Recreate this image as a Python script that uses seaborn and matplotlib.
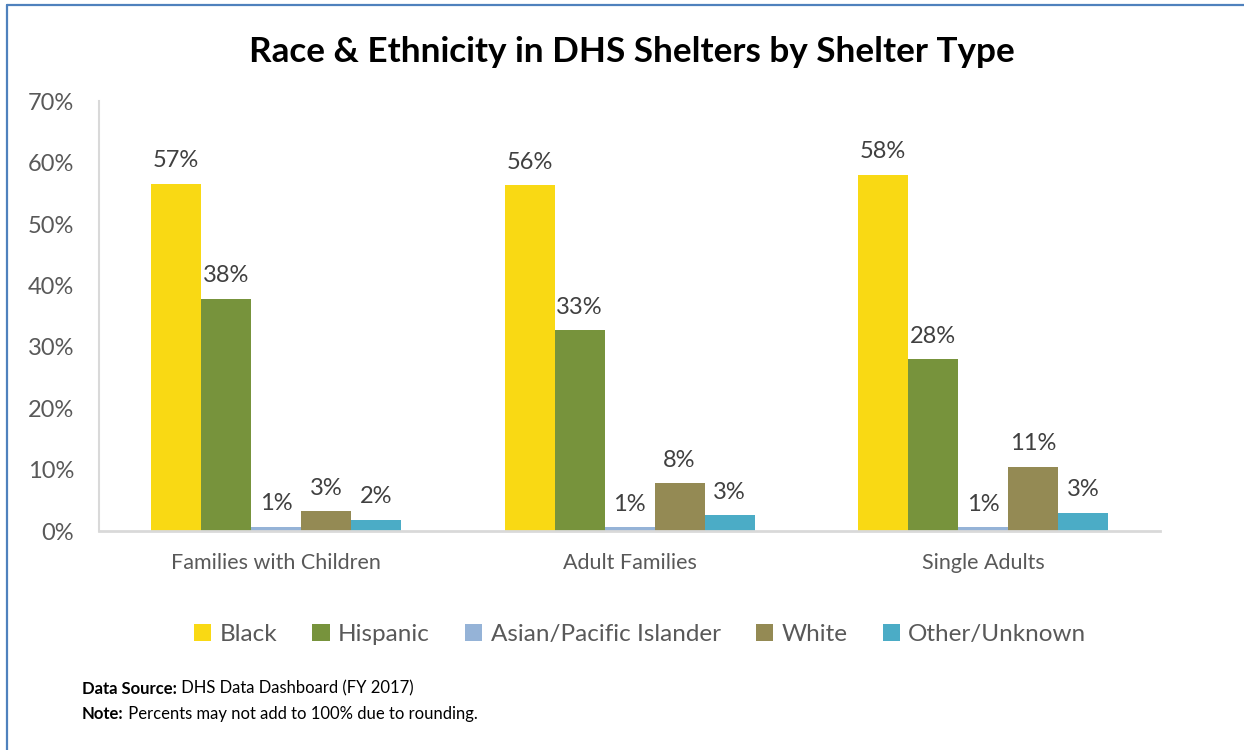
import matplotlib
matplotlib.use("Agg")
import matplotlib.pyplot as plt
import matplotlib.ticker as mticker
from matplotlib.lines import Line2D
import seaborn as sns
import pandas as pd

shelter_types = ["Families with Children", "Adult Families", "Single Adults"]
races = ["Black", "Hispanic", "Asian/Pacific Islander", "White", "Other/Unknown"]
black = [56.6, 56.3, 58.0]
hispanic = [37.8, 32.7, 28.0]
asian = [0.7, 0.6, 0.6]
white = [3.2, 7.8, 10.5]
other = [1.8, 2.6, 3.0]
labels = {
    "Black": ["57%", "56%", "58%"],
    "Hispanic": ["38%", "33%", "28%"],
    "Asian/Pacific Islander": ["1%", "1%", "1%"],
    "White": ["3%", "8%", "11%"],
    "Other/Unknown": ["2%", "3%", "3%"],
}
colors = ["#F9D914", "#77933C", "#95B3D7", "#948A54", "#4BACC6"]

series = [black, hispanic, asian, white, other]
rows = []
for r, vals in zip(races, series):
    for s, v in zip(shelter_types, vals):
        rows.append({"Shelter": s, "Race": r, "Pct": v})
df = pd.DataFrame(rows)

sns.set_theme(style="white")
plt.rcParams["font.family"] = ["Lato", "DejaVu Sans"]

fig = plt.figure(figsize=(12.44, 7.5), dpi=100)
ax = fig.add_axes([0.0796, 0.292, 0.853, 0.573])

sns.barplot(data=df, x="Shelter", y="Pct", hue="Race", order=shelter_types,
            hue_order=races, palette=colors, width=0.707, saturation=1,
            ax=ax, legend=True, edgecolor="none")

for cont, r in zip(ax.containers, races):
    ax.bar_label(cont, labels=labels[r], padding=9, fontsize=17, color="#404040")

ax.set_ylim(0, 70)
ax.set_xlim(-0.5, 2.5)
ax.yaxis.set_major_locator(mticker.MultipleLocator(10))
ax.yaxis.set_major_formatter(mticker.FuncFormatter(lambda v, p: f"{int(v)}%"))
ax.set_xlabel("")
ax.set_ylabel("")
ax.tick_params(axis="y", labelsize=17, labelcolor="#595959", pad=18, length=0)
ax.tick_params(axis="x", labelsize=15.5, labelcolor="#595959", pad=16, length=0)
for side in ["top", "right"]:
    ax.spines[side].set_visible(False)
ax.spines["left"].set_color("#D9D9D9")
ax.spines["left"].set_linewidth(1.5)
ax.spines["bottom"].set_color("#D9D9D9")
ax.spines["bottom"].set_linewidth(2)

handles, lbls = ax.get_legend_handles_labels()
ax.legend(handles, lbls, loc="upper center", bbox_to_anchor=(0.51, -0.165),
          ncol=5, frameon=False, fontsize=17.5, labelcolor="#595959",
          handlelength=0.7, handleheight=0.7, handletextpad=0.35,
          columnspacing=1.45)

fig.text(0.508, 0.93, "Race & Ethnicity in DHS Shelters by Shelter Type",
         ha="center", va="center", fontsize=25.3, fontweight="bold", color="black")

fig.canvas.draw()
renderer = fig.canvas.get_renderer()
foot = [("Data Source:", " DHS Data Dashboard (FY 2017)", 0.082),
        ("Note:", " Percents may not add to 100% due to rounding.", 0.048)]
for bold, rest, yy in foot:
    t = fig.text(0.066, yy, bold, fontsize=12, fontweight="bold",
                 color="black", va="center")
    bb = t.get_window_extent(renderer=renderer)
    x2 = bb.x1 / fig.bbox.width
    fig.text(x2, yy, rest, fontsize=12, color="black", va="center")

fig.add_artist(Line2D([0.0056, 0.0056], [0, 0.994], transform=fig.transFigure,
                      color="#4F81BD", linewidth=1.6))
fig.add_artist(Line2D([0.0056, 1], [0.994, 0.994], transform=fig.transFigure,
                      color="#4F81BD", linewidth=1.6))

fig.savefig("out.png", dpi=100)
